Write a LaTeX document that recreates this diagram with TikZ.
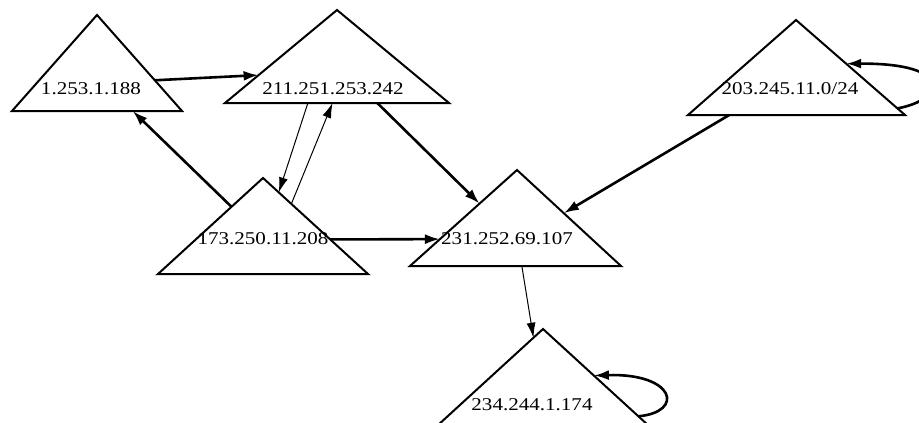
\documentclass[tikz,border=0pt]{standalone}
\usepackage{fontspec}
\usepackage{graphicx}
\setmainfont{Liberation Serif}
\usetikzlibrary{arrows.meta,calc}
\newcommand\lab[1]{\scalebox{1.17}[1]{#1}}
\begin{document}
\begin{tikzpicture}[x=1pt,y=-1pt,
  tri/.style={draw=black,line width=2pt,line join=miter,fill=white},
  lbl/.style={font=\fontsize{18}{18}\selectfont,inner sep=0pt},
  thickedge/.style={line width=2.6pt,-{Latex[length=15pt,width=10pt]}},
  thinedge/.style={line width=1pt,-{Latex[length=15pt,width=9pt]}}]
\useasboundingbox (0,0) rectangle (919,423);
\clip (0,0) rectangle (919,423);
\fill[white] (0,0) rectangle (919,423);
% triangle corners
\coordinate (a1) at (97,15);  \coordinate (l1) at (12,111);  \coordinate (r1) at (182,111);
\coordinate (a2) at (337,10); \coordinate (l2) at (225,103); \coordinate (r2) at (449,103);
\coordinate (a3) at (796,20); \coordinate (l3) at (688,115); \coordinate (r3) at (905,115);
\coordinate (a4) at (263,178);\coordinate (l4) at (158,274); \coordinate (r4) at (368,274);
\coordinate (a5) at (517,170);\coordinate (l5) at (410,266); \coordinate (r5) at (621,266);
\coordinate (a6) at (543,329);\coordinate (l6) at (437,426); \coordinate (r6) at (649,426);
\foreach \i in {1,...,6}{\draw[tri] (a\i) -- (l\i) -- (r\i) -- cycle;}
% labels
\node[lbl] (n1) at (91,89)  {\lab{1.253.1.188}};
\node[lbl] (n2) at (333,89) {\lab{211.251.253.242}};
\node[lbl] (n3) at (790,89) {\lab{203.245.11.0/24}};
\node[lbl] (n4) at (263,239){\lab{173.250.11.208}};
\node[lbl] (n5) at (507,239){\lab{231.252.69.107}};
\node[lbl] (n6) at (532,405){\lab{234.244.1.174}};
% connectors
\draw[thickedge] ($(a1)!0.68!(r1)$) -- ($(a2)!0.70!(l2)$);
\draw[thickedge] ($(a4)!0.30!(l4)$) -- ($(l1)!0.71!(r1)$);
\draw[thinedge]  ($(l2)!0.37!(r2)$) -- ($(a4)!0.15!(r4)$);
\draw[thinedge]  ($(a4)!0.27!(r4)$) -- ($(l2)!0.48!(r2)$);
\draw[thickedge] ($(l2)!0.68!(r2)$) -- ($(a5)!0.35!(l5)$);
\draw[thickedge] ($(a4)!0.64!(r4)$) -- ($(a5)!0.72!(l5)$);
\draw[thickedge] ($(l3)!0.19!(r3)$) -- ($(a5)!0.45!(r5)$);
\draw[thinedge]  ($(l5)!0.53!(r5)$) -- ($(a6)!0.09!(l6)$);
\draw[thickedge] ($(a3)!0.93!(r3)$) .. controls (945,100) and (955,63) .. ($(a3)!0.46!(r3)$);
\draw[thickedge] ($(a6)!0.90!(r6)$) .. controls (685,412) and (675,373) .. ($(a6)!0.48!(r6)$);
\end{tikzpicture}
\end{document}
